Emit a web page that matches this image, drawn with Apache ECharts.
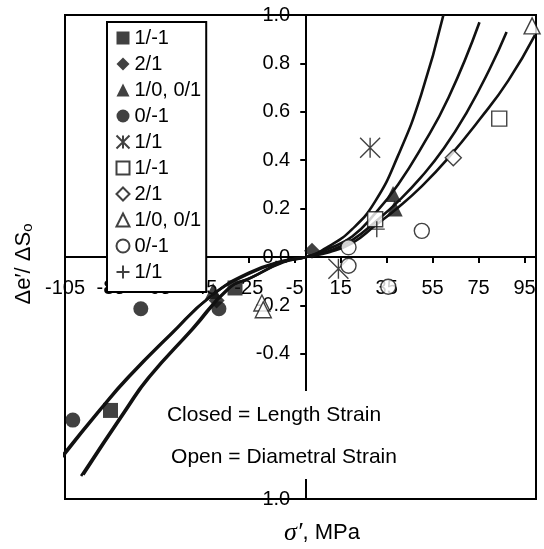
<!DOCTYPE html>
<html><head><meta charset="utf-8">
<script src="https://cdn.jsdelivr.net/npm/echarts@6/dist/echarts.min.js"></script>
<style>html,body{margin:0;padding:0;background:#fff}#c{width:544px;height:549px}</style>
</head><body><div id="c"></div>
<script>
// ---- tick labels ----
const xTicks = [-105, -85, -65, -45, -25, -5, 15, 35, 55, 75, 95];
// ---- closed symbols (length strain) ----
const closedSquare = [[-31, -0.128], [-85.2, -0.634]];
const closedDiamond = [[2.5, 0.026], [-39, -0.18]];
const closedTriangle = [[37.8, 0.26], [38.5, 0.20], [-40.5, -0.14]];
const closedCircle = [[-72, -0.214], [-38, -0.214], [-101.6, -0.674]];
// ---- open symbols (diametral strain) ----
const asterisk = [[27.8, 0.451], [14, -0.049]];
const openSquare = [[84, 0.572], [30, 0.156]];
const openDiamond = [[64, 0.41]];
const openTriangle = [[98.3, 0.955], [-19.3, -0.19], [-18.7, -0.218]];
const openCircle = [[18.4, 0.04], [18.4, -0.036], [50.3, 0.108], [35.7, -0.123]];
const plusPts = [[30.7, 0.115]];
// ---- fitted curves ----
const curve1 = [[-107, -0.83], [-90, -0.632], [-78, -0.5], [-59, -0.318], [-42, -0.165], [-25, -0.07], [-10, -0.018], [0, 0], [10, 0.045], [20, 0.115], [30, 0.23], [40, 0.42], [50, 0.67], [59.7, 1.0]];
const curve2 = [[-106, -0.826], [-89, -0.626], [-77, -0.495], [-58, -0.312], [-41, -0.158], [-25, -0.065], [-10, -0.016], [0, 0], [10, 0.035], [20, 0.085], [30, 0.18], [40, 0.3], [50, 0.45], [62, 0.66], [75.4, 0.97]];
const curve3 = [[-98, -0.905], [-79, -0.634], [-69, -0.5], [-50, -0.3], [-34, -0.13], [-25, -0.09], [-10, -0.022], [0, 0], [10, 0.025], [20, 0.07], [30, 0.145], [40, 0.23], [50, 0.33], [60, 0.45], [70, 0.6], [80, 0.78], [87.2, 0.93]];
const curve4 = [[-97, -0.9], [-78, -0.628], [-68, -0.495], [-49, -0.295], [-33, -0.125], [-24, -0.085], [-10, -0.02], [0, 0], [10, 0.02], [20, 0.057], [30, 0.13], [40, 0.205], [50, 0.29], [61, 0.4], [75.6, 0.57], [88, 0.73], [99.6, 0.918]];

const FONT = 'Liberation Sans, Arial, sans-serif';
const BLK = '#111';
const ASTER = 'path://M0,0L20,20M20,0L0,20M10,0L10,20';
const PLUS = 'path://M0,8L16,8M8,0L8,16';

// grid geometry
const G = { left: 65, right: 8, top: 15, bottom: 50 };
const W = 544, H = 549;
const X_MIN = -105, X_MAX = 100, Y_MIN = -1, Y_MAX = 1;
const gw = W - G.left - G.right, gh = H - G.top - G.bottom;
// move axes so that they cross at the origin (labels and ticks move with them)
const yAxisOffset = -((0 - X_MIN) / (X_MAX - X_MIN)) * gw;
const xAxisOffset = -((0 - Y_MIN) / (Y_MAX - Y_MIN)) * gh;

function closed(name, data, symbol, size) {
  return { name, type: 'scatter', data, symbol, symbolSize: size, z: 5,
    itemStyle: { color: BLK, borderWidth: 0 } };
}
function open(name, data, symbol, size, fill) {
  return { name, type: 'scatter', data, symbol, symbolSize: size, z: 5,
    itemStyle: { color: fill === undefined ? '#fff' : fill, borderColor: BLK, borderWidth: 1.4 } };
}
function curve(data) {
  return { type: 'line', data, smooth: 0.5, symbol: 'none', clip: false, z: 3,
    lineStyle: { color: BLK, width: 2.6 } };
}

const legendNames = ['c1/-1', 'c2/1', 'c1/0, 0/1', 'c0/-1', 'c1/1', 'o1/-1', 'o2/1', 'o1/0, 0/1', 'o0/-1', 'o1/1'];

const option = {
  animation: false,
  backgroundColor: '#fff',
  grid: { left: G.left, right: G.right, top: G.top, bottom: G.bottom, show: true, borderColor: '#000', borderWidth: 2, backgroundColor: '#fff' },
  xAxis: {
    type: 'value', min: X_MIN, max: X_MAX, position: 'bottom', offset: xAxisOffset,
    splitLine: { show: false },
    axisLine: { onZero: false, lineStyle: { color: '#000', width: 2 } },
    axisTick: { show: true, length: 6, lineStyle: { color: '#000', width: 2 }, customValues: xTicks },
    axisLabel: { customValues: xTicks, margin: 21, color: '#000', fontSize: 20, fontFamily: FONT }
  },
  yAxis: {
    type: 'value', min: Y_MIN, max: Y_MAX, interval: 0.2, position: 'left', offset: yAxisOffset,
    splitLine: { show: false },
    axisLine: { onZero: false, lineStyle: { color: '#000', width: 2 } },
    axisTick: { show: true, length: 6, lineStyle: { color: '#000', width: 2 } },
    axisLabel: { margin: 16, color: '#000', fontSize: 20, fontFamily: FONT,
      formatter: v => { const s = (Math.round(v * 10) / 10).toFixed(1); return s === '-0.0' ? '0.0' : s; } }
  },
  legend: {
    orient: 'vertical', left: 107, top: 22, data: legendNames,
    formatter: n => n.slice(1),
    backgroundColor: '#fff', borderColor: '#000', borderWidth: 2,
    padding: [6, 5, 10, 7], itemGap: 6, itemWidth: 13, itemHeight: 13, itemTextGap: 5,
    textStyle: { fontSize: 20, lineHeight: 20, color: '#000', fontFamily: FONT },
    z: 20
  },
  series: [
    curve(curve1), curve(curve2), curve(curve3), curve(curve4),
    closed('c1/-1', closedSquare, 'rect', 15),
    closed('c2/1', closedDiamond, 'diamond', 16),
    closed('c1/0, 0/1', closedTriangle, 'triangle', 16),
    closed('c0/-1', closedCircle, 'circle', 15),
    open('c1/1', asterisk, ASTER, 20, 'none'),
    open('o1/-1', openSquare, 'rect', 15),
    open('o2/1', openDiamond, 'diamond', 16),
    open('o1/0, 0/1', openTriangle, 'triangle', 16),
    open('o0/-1', openCircle, 'circle', 15),
    open('o1/1', plusPts, PLUS, 16, 'none')
  ],
  graphic: [
    { type: 'rect', z: 50, shape: { x: 163, y: 391, width: 240, height: 88 }, style: { fill: '#fff' } },
    { type: 'text', z: 51, x: 274, y: 415, style: { text: 'Closed = Length Strain', font: '21px ' + FONT, fill: '#000', align: 'center', verticalAlign: 'middle' } },
    { type: 'text', z: 51, x: 284, y: 457, style: { text: 'Open = Diametral Strain', font: '21px ' + FONT, fill: '#000', align: 'center', verticalAlign: 'middle' } },
    { type: 'text', z: 51, x: 24, y: 264, rotation: Math.PI / 2,
      style: { text: '{a|Δe′/ ΔS}{s|o}', align: 'center', verticalAlign: 'middle',
        rich: { a: { fontSize: 22, fontFamily: FONT, color: '#000' }, s: { fontSize: 15, fontFamily: FONT, color: '#000', verticalAlign: 'bottom', padding: [8, 0, 0, 0] } } } },
    { type: 'text', z: 51, x: 284, y: 533,
      style: { text: '{a|σ′}{b|, MPa}', align: 'left', verticalAlign: 'middle',
        rich: { a: { fontSize: 26, fontFamily: 'Liberation Serif, serif', fontStyle: 'italic', color: '#000' }, b: { fontSize: 22, fontFamily: FONT, color: '#000' } } } }
  ]
};
const chart = echarts.init(document.getElementById('c'), null, { renderer: 'canvas' });
chart.setOption(option);
</script></body></html>
